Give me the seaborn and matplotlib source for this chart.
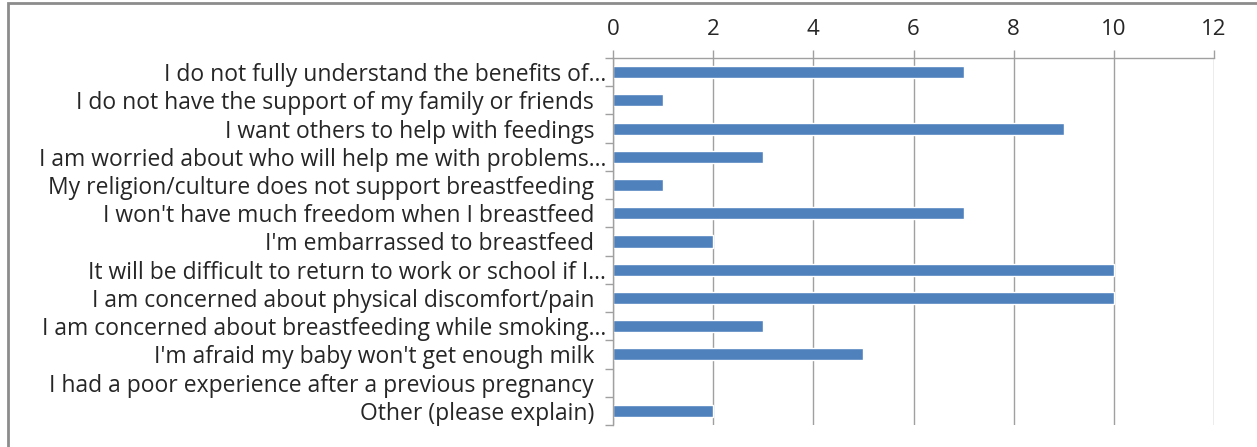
import matplotlib
matplotlib.use("Agg")
import matplotlib.pyplot as plt
import seaborn as sns
import pandas as pd
from matplotlib.patches import Rectangle

categories = [
    "I do not fully understand the benefits of...",
    "I do not have the support of my family or friends  ",
    "I want others to help with feedings  ",
    "I am worried about who will help me with problems...",
    "My religion/culture does not support breastfeeding  ",
    "I won't have much freedom when I breastfeed  ",
    "I'm embarrassed to breastfeed  ",
    "It will be difficult to return to work or school if I...",
    "I am concerned about physical discomfort/pain  ",
    "I am concerned about breastfeeding while smoking...",
    "I'm afraid my baby won't get enough milk  ",
    "I had a poor experience after a previous pregnancy  ",
    "Other (please explain)  ",
]
counts = [7, 1, 9, 3, 1, 7, 2, 10, 10, 3, 5, 0, 2]
x_ticks = [0, 2, 4, 6, 8, 10, 12]

df = pd.DataFrame({"category": categories, "count": counts})

sns.set_theme(style="white")
plt.rcParams['font.family'] = ['Open Sans', 'DejaVu Sans']

fig = plt.figure(figsize=(12.57, 4.47), dpi=100)
ax = fig.add_axes([613/1257, 1-425/447, (1214-613)/1257, (425-58)/447])

sns.barplot(data=df, x="count", y="category", orient="h", color="#4F81BD",
            saturation=1, width=0.43, ax=ax)

ax.set_xlim(0, 12)
ax.set_ylim(len(categories)-0.5, -0.5)
ax.set_xticks(x_ticks)
ax.xaxis.tick_top()
ax.set_xlabel("")
ax.set_ylabel("")
ax.grid(axis="x", color="#A0A0A0", linewidth=1)
ax.set_axisbelow(True)

for s in ["right", "bottom"]:
    ax.spines[s].set_visible(False)
for s in ["left", "top"]:
    ax.spines[s].set_color("#A0A0A0")
    ax.spines[s].set_linewidth(1)

ax.set_yticks([i - 0.5 for i in range(len(categories) + 1)], minor=True)
ax.tick_params(axis="y", which="major", length=0, pad=5, labelsize=16.5, colors="#262626")
ax.tick_params(axis="y", which="minor", length=6, color="#A0A0A0", width=1, left=True)
ax.tick_params(axis="x", which="major", length=6, color="#A0A0A0", width=1,
               labelsize=16, colors="#262626", pad=7)

fig.patches.append(Rectangle((8/1257, -0.1), 1.2, 1 - 3/447 + 0.1, transform=fig.transFigure,
                             fill=False, edgecolor="#8C8C8C", linewidth=2))

fig.savefig("out.png", dpi=100)
